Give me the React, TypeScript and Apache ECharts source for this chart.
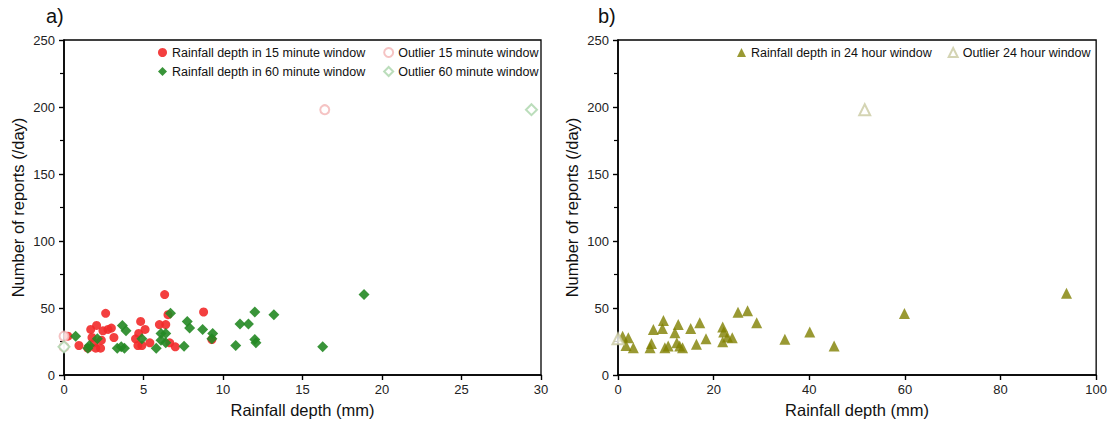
import React, { useEffect, useRef } from "react";
import * as echarts from "echarts";

// Panel a) data: [rainfall depth (mm), number of reports (/day)]
const rain15: [number, number][] = [
  [0.25, 29], [0.94, 22], [1.5, 20], [1.68, 34], [1.76, 28], [2.05, 37], [2.0, 20], [2.3, 20],
  [2.35, 26], [1.9, 24], [2.45, 33], [2.62, 46], [2.77, 34], [2.98, 35], [3.14, 28],
  [4.5, 27], [4.65, 22], [4.7, 31], [4.82, 40], [4.9, 22], [5.1, 34], [5.4, 24],
  [6.0, 37.6], [6.33, 60], [6.4, 37.6], [6.54, 45], [6.65, 24], [7.0, 21], [8.78, 47], [9.3, 26.5],
];
const rain60: [number, number][] = [
  [0.73, 29], [1.5, 20], [1.6, 22], [2.1, 27], [3.35, 20], [3.6, 21], [3.67, 37], [3.8, 20],
  [3.9, 33], [4.9, 27], [5.8, 20], [6.1, 31], [6.1, 26], [6.4, 31], [6.4, 24], [6.7, 46],
  [7.55, 21.5], [7.75, 40], [7.9, 35], [8.72, 34], [9.35, 31], [9.3, 27], [10.8, 22],
  [11.07, 38], [11.6, 38], [12.0, 47], [12.0, 26.4], [12.07, 24], [13.2, 45], [16.27, 21], [18.87, 60],
];
const outlier15: [number, number][] = [[16.4, 198], [0, 29], [0, 21]];
const outlier60: [number, number][] = [[29.4, 198], [0, 21]];

// Panel b) data
const rain24: [number, number][] = [
  [0.97, 29], [1.67, 22], [2.16, 27.8], [3.2, 20.4], [6.7, 20.4], [7.0, 23.6], [7.4, 34],
  [9.3, 34.7], [9.5, 40.7], [9.8, 20.4], [10.5, 21.7], [11.9, 31.5], [12.3, 24], [12.6, 37.7],
  [12.9, 21.7], [13.5, 20.4], [15.2, 34.7], [16.4, 22.9], [17.1, 39], [18.4, 27], [21.9, 35.8],
  [22.1, 32], [21.9, 24.9], [22.9, 28.4], [23.9, 27.8], [25.1, 46.9], [27.1, 48], [29, 39],
  [34.9, 26.6], [40.1, 32], [45.2, 21.7], [59.9, 45.9], [93.8, 61],
];
const outlier24: [number, number][] = [[51.6, 198], [0, 27]];

const yTicksMax = 250;
const xMaxA = 30;
const xMaxB = 100;

const NAME15 = "Rainfall depth in 15 minute window";
const NAME60 = "Rainfall depth in 60 minute window";
const NAMEO15 = "Outlier 15 minute window";
const NAMEO60 = "Outlier 60 minute window";
const NAME24 = "Rainfall depth in 24 hour window";
const NAMEO24 = "Outlier 24 hour window";

const FONT = "Liberation Sans, Arial, sans-serif";

export default function App() {
  const ref = useRef<HTMLDivElement>(null);
  useEffect(() => {
    if (!ref.current) return;
    const chart = echarts.init(ref.current, null, { renderer: "svg" });
    const axisCommon = {
      axisLine: { show: true, lineStyle: { color: "#000", width: 1.6 } },
      axisTick: { show: true, inside: false, length: 5, lineStyle: { color: "#000", width: 1.4 } },
      axisLabel: { color: "#222", fontSize: 13, fontFamily: FONT },
      splitLine: { show: false },
      nameTextStyle: { color: "#111", fontSize: 16.5, fontFamily: FONT },
    };
    const yAxis = (gi: number) => ({
      ...axisCommon,
      type: "value",
      gridIndex: gi,
      min: 0,
      max: yTicksMax,
      interval: 50,
      name: "Number of reports (/day)",
      nameLocation: "middle",
      nameGap: 38,
      axisLabel: { ...axisCommon.axisLabel, margin: 9 },
      minorTick: { show: true, splitNumber: 2, length: 4, lineStyle: { color: "#000", width: 1.2 } },
    });
    const legendText = { fontSize: 12.5, fontFamily: FONT, color: "#111" };
    chart.setOption({
      animation: false,
      backgroundColor: "#fff",
      textStyle: { fontFamily: FONT },
      grid: [
        { left: 64, top: 40, width: 477, height: 337, show: true, borderColor: "#000", borderWidth: 1.3, backgroundColor: "transparent" },
        { left: 618, top: 40, width: 479, height: 337, show: true, borderColor: "#000", borderWidth: 1.3, backgroundColor: "transparent" },
      ],
      xAxis: [
        { ...axisCommon, type: "value", gridIndex: 0, min: 0, max: xMaxA, interval: 5, name: "Rainfall depth (mm)", nameLocation: "middle", nameGap: 26 },
        { ...axisCommon, type: "value", gridIndex: 1, min: 0, max: xMaxB, interval: 20, name: "Rainfall depth (mm)", nameLocation: "middle", nameGap: 26 },
      ],
      yAxis: [yAxis(0), yAxis(1)],
      legend: [
        { data: [NAME15, NAMEO15], left: 153, top: 41, itemWidth: 9, itemHeight: 9, itemGap: 18, textStyle: legendText },
        { data: [NAME60, NAMEO60], left: 153, top: 60, itemWidth: 9, itemHeight: 9, itemGap: 18, textStyle: legendText },
        { data: [NAME24, NAMEO24], left: 732, top: 41, itemWidth: 9, itemHeight: 9, itemGap: 16, textStyle: legendText },
      ],
      graphic: [
        { type: "text", left: 46, top: 6, style: { text: "a)", fontSize: 20, fontFamily: FONT, fill: "#111" } },
        { type: "text", left: 598, top: 6, style: { text: "b)", fontSize: 20, fontFamily: FONT, fill: "#111" } },
      ],
      series: [
        {
          name: NAME15, type: "scatter", xAxisIndex: 0, yAxisIndex: 0, data: rain15,
          symbol: "circle", symbolSize: 9, itemStyle: { color: "#f22a2a", opacity: 0.9 },
        },
        {
          name: NAMEO15, type: "scatter", xAxisIndex: 0, yAxisIndex: 0, data: outlier15,
          symbol: "emptyCircle", symbolSize: 9, itemStyle: { color: "#f2b4b4", borderColor: "#eaa5a5", borderWidth: 1 },
        },
        {
          name: NAME60, type: "scatter", xAxisIndex: 0, yAxisIndex: 0, data: rain60,
          symbol: "diamond", symbolSize: 11, itemStyle: { color: "#238823", opacity: 0.9 },
        },
        {
          name: NAMEO60, type: "scatter", xAxisIndex: 0, yAxisIndex: 0, data: outlier60,
          symbol: "emptyDiamond", symbolSize: 11, itemStyle: { color: "#aad4aa", borderColor: "#9fcf9f", borderWidth: 1 },
        },
        {
          name: NAME24, type: "scatter", xAxisIndex: 1, yAxisIndex: 1, data: rain24,
          symbol: "triangle", symbolSize: 11, itemStyle: { color: "#7f7f00" },
        },
        {
          name: NAMEO24, type: "scatter", xAxisIndex: 1, yAxisIndex: 1, data: outlier24,
          symbol: "emptyTriangle", symbolSize: 11, itemStyle: { color: "#c9c9a0", borderColor: "#bcbc88", borderWidth: 1 },
        },
      ],
    });
    return () => chart.dispose();
  }, []);
  return (
    <div
      ref={ref}
      style={{ position: "absolute", left: 0, top: 0, width: 1110, height: 423, background: "#fff" }}
    />
  );
}
